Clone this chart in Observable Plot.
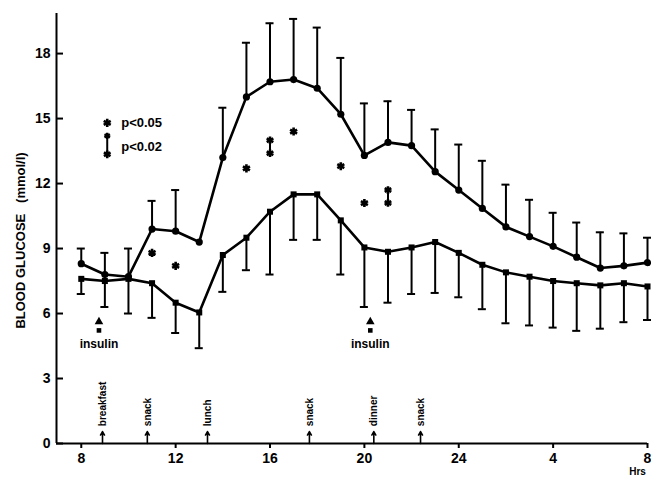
<!DOCTYPE html>
<html>
<head>
<meta charset="utf-8">
<script src="https://cdn.jsdelivr.net/npm/d3@7"></script>
<script src="https://cdn.jsdelivr.net/npm/@observablehq/plot@0.6"></script>
<style>
  html, body { margin: 0; padding: 0; background: #fff; }
  svg { font-family: "Liberation Sans", Arial, sans-serif; font-weight: bold; }
  g[aria-label="ylabel"] text { letter-spacing: 0.6px; }
</style>
</head>
<body>
<div id="chart"></div>
<script>
// ---- data ----
const hours = [8,9,10,11,12,13,14,15,16,17,18,19,20,21,22,23,24,25,26,27,28,29,30,31,32];
const upperMean = [8.3,7.8,7.7,9.9,9.8,9.3,13.2,16.0,16.7,16.8,16.4,15.2,13.3,13.9,13.75,12.55,11.7,10.85,10.0,9.55,9.1,8.6,8.1,8.2,8.35];
const upperHigh = [9.0,8.8,9.0,11.2,11.7,null,15.5,18.5,19.4,19.6,19.2,17.8,15.7,15.8,15.4,14.5,13.8,13.05,11.95,11.25,10.65,10.2,9.75,9.7,9.5];
const lowerMean = [7.6,7.5,7.6,7.4,6.5,6.05,8.7,9.5,10.7,11.5,11.5,10.3,9.05,8.85,9.05,9.3,8.8,8.25,7.9,7.7,7.5,7.4,7.3,7.4,7.25];
const lowerLow  = [6.9,6.3,6.0,5.8,5.1,4.4,7.0,8.0,7.8,9.4,9.4,7.8,6.3,6.5,6.9,6.95,6.75,6.2,5.55,5.45,5.35,5.2,5.3,5.6,5.7];

const starHours  = [11, 12, 15, 17, 19, 20];
const starValues = [8.8, 8.2, 12.7, 14.4, 12.8, 11.1];
const pairHours = [16, 21];
const pairLow   = [13.4, 11.1];
const pairHigh  = [14.0, 11.7];

const mealLabels = ["breakfast", "snack", "lunch", "snack", "dinner", "snack"];
const mealHours  = [8.9, 10.8, 13.35, 17.67, 20.4, 22.38];

const insulinHours = [8.75, 20.25];

const xTicks = [8, 12, 16, 20, 24, 28, 32];
const yTicks = [0, 3, 6, 9, 12, 15, 18];
const xDomain = [6.95, 32];
const yDomain = [0, 19.85];

const yLabel = "BLOOD GLUCOSE\u00a0\u00a0\u00a0(mmol/l)";

const legendItems = [
  {h: 9.1, v: 14.8, lo: null, hi: null, label: "p<0.05"},
  {h: 9.1, v: 13.7, lo: 13.35, hi: 14.2, label: "p<0.02"}
];

// ---- tables ----
const upper = hours.map((h, i) => ({h, v: upperMean[i], e: upperHigh[i]}));
const lower = hours.map((h, i) => ({h, v: lowerMean[i], e: lowerLow[i]}));
const stars = starHours.map((h, i) => ({h, v: starValues[i]}));
const pairs = pairHours.map((h, i) => ({h, lo: pairLow[i], hi: pairHigh[i]}));
const meals = mealLabels.map((label, i) => ({label, h: mealHours[i]}));
const insulin = insulinHours.map(h => ({h}));
const upperBars = upper.filter(d => d.e != null);
const capHalf = 0.17;

const chart = Plot.plot({
  width: 651,
  height: 479,
  marginLeft: 56,
  marginRight: 4,
  marginTop: 13,
  marginBottom: 36,
  style: {background: "#fff", color: "#000", fontSize: "14px"},
  x: {domain: xDomain},
  y: {domain: yDomain},
  marks: [
    // axes
    Plot.ruleY([yDomain[0]], {strokeWidth: 2}),
    Plot.ruleX([xDomain[0]], {strokeWidth: 2}),
    Plot.axisX({ticks: xTicks, tickFormat: d => d > 24 ? String(d - 24) : String(d), tickSize: 5, tickPadding: 5, strokeWidth: 2, label: null, fontSize: 14, fontWeight: "bold"}),
    Plot.axisY({ticks: yTicks, tickSize: -7, tickPadding: 13, strokeWidth: 2, label: null, fontSize: 14, fontWeight: "bold"}),
    Plot.text([yLabel], {frameAnchor: "left", textAnchor: "middle", dx: -36, dy: 12, rotate: -90, fontSize: 13, fontWeight: "bold", ariaLabel: "ylabel"}),
    Plot.text(["Hrs"], {frameAnchor: "bottom-right", textAnchor: "middle", dx: -10, dy: 31, fontSize: 10, fontWeight: "bold"}),

    // error bars
    Plot.ruleX(upperBars, {x: "h", y1: "v", y2: "e", strokeWidth: 2}),
    Plot.ruleY(upperBars, {y: "e", x1: d => d.h - capHalf, x2: d => d.h + capHalf, strokeWidth: 2}),
    Plot.ruleX(lower, {x: "h", y1: "v", y2: "e", strokeWidth: 2}),
    Plot.ruleY(lower, {y: "e", x1: d => d.h - capHalf, x2: d => d.h + capHalf, strokeWidth: 2}),

    // curves
    Plot.line(upper, {x: "h", y: "v", strokeWidth: 2.6}),
    Plot.dot(upper, {x: "h", y: "v", r: 3.6, fill: "#000"}),
    Plot.line(lower, {x: "h", y: "v", strokeWidth: 2.6}),
    Plot.dot(lower, {x: "h", y: "v", r: 3.4, symbol: "square", fill: "#000"}),

    // significance markers
    Plot.dot(stars, {x: "h", y: "v", symbol: "asterisk", r: 3.8, strokeWidth: 2.6}),
    Plot.ruleX(pairs, {x: "h", y1: "lo", y2: "hi", strokeWidth: 2}),
    Plot.dot(pairs, {x: "h", y: "lo", symbol: "asterisk", r: 3.6, strokeWidth: 2.6}),
    Plot.dot(pairs, {x: "h", y: "hi", symbol: "asterisk", r: 3.6, strokeWidth: 2.6}),

    // legend
    Plot.dot(legendItems.filter(d => d.lo == null), {x: "h", y: "v", symbol: "asterisk", r: 3.8, strokeWidth: 2.6}),
    Plot.ruleX(legendItems.filter(d => d.lo != null), {x: "h", y1: "lo", y2: "hi", strokeWidth: 2}),
    Plot.dot(legendItems.filter(d => d.lo != null), {x: "h", y: "lo", symbol: "asterisk", r: 3.6, strokeWidth: 2.6}),
    Plot.dot(legendItems.filter(d => d.lo != null), {x: "h", y: "hi", symbol: "asterisk", r: 3.0, strokeWidth: 2.4}),
    Plot.text(legendItems, {x: "h", y: "v", text: "label", dx: 14, textAnchor: "start", fontSize: 13, fontWeight: "bold"}),

    // insulin
    Plot.dot(insulin, {x: "h", y: 5.62, symbol: "triangle", r: 3.2, fill: "#000"}),
    Plot.dot(insulin, {x: "h", y: 5.22, symbol: "square", r: 2.6, fill: "#000"}),
    Plot.text(insulin, {x: "h", y: 4.6, text: () => "insulin", fontSize: 12, fontWeight: "bold"}),

    // meals
    Plot.arrow(meals, {x: "h", y1: yDomain[0], y2: 0.55, strokeWidth: 1.6, headLength: 4}),
    Plot.text(meals, {x: "h", y: 0.8, text: "label", rotate: -90, textAnchor: "start", fontSize: 10, fontWeight: "bold"})
  ]
});

document.getElementById("chart").appendChild(chart);
</script>
</body>
</html>
